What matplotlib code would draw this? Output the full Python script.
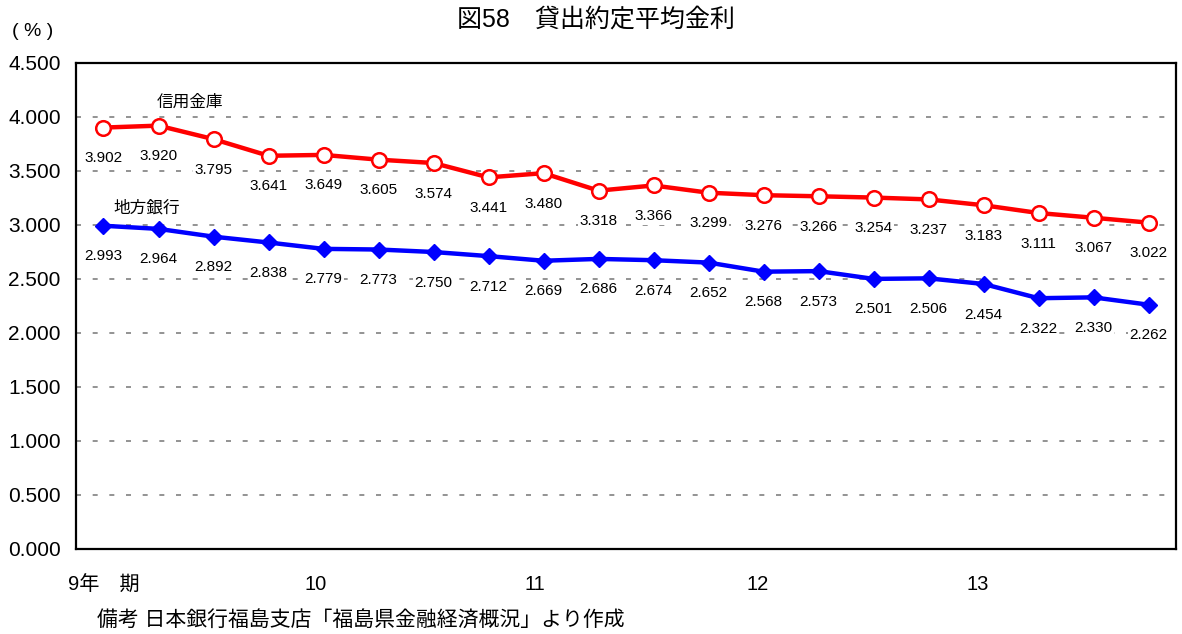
import numpy as np
import matplotlib
matplotlib.use("Agg")
import matplotlib.pyplot as plt

plt.rcParams['font.family'] = ['Liberation Sans', 'Noto Sans CJK JP', 'DejaVu Sans']

shinkin = [3.902, 3.920, 3.795, 3.641, 3.649, 3.605, 3.574, 3.441, 3.480, 3.318,
           3.366, 3.299, 3.276, 3.266, 3.254, 3.237, 3.183, 3.111, 3.067, 3.022]
chigin = [2.993, 2.964, 2.892, 2.838, 2.779, 2.773, 2.750, 2.712, 2.669, 2.686,
          2.674, 2.652, 2.568, 2.573, 2.501, 2.506, 2.454, 2.322, 2.330, 2.262]
year_labels = ['9年　期', '10', '11', '12', '13']
year_pos = [0, 3.85, 7.85, 11.9, 15.9]
y_ticks = np.arange(0, 4.51, 0.5)

x = np.arange(len(shinkin))

fig = plt.figure(figsize=(11.82, 6.34), dpi=100)
ax = fig.add_axes([76 / 1182, 1 - 549 / 634, 1100 / 1182, 486 / 634])

for v in y_ticks[1:-1]:
    ax.axhline(v, color='#808080', lw=1.2, ls=(0, (3, 7)), zorder=1)

ax.plot(x, shinkin, color='#ff0000', lw=3.2, marker='o', ms=10.5,
        mfc='white', mec='#ff0000', mew=1.8, zorder=3)
ax.plot(x, chigin, color='#0000ff', lw=3.2, marker='D', ms=8.5,
        mfc='#0000ff', mec='#0000ff', zorder=3)

for xs, ys in [(x, shinkin), (x, chigin)]:
    for xi, yi in zip(xs, ys):
        ax.annotate(f'{yi:.3f}', (xi, yi), xytext=(0, -22), textcoords='offset points',
                    ha='center', va='center', fontsize=11, zorder=4,
                    bbox=dict(boxstyle='square,pad=0.1', fc='white', ec='none'))

ax.text(1.57, 4.14, '信用金庫', ha='center', va='center', fontsize=12)
ax.text(0.79, 3.157, '地方銀行', ha='center', va='center', fontsize=12)

ax.set_xlim(-0.5, len(shinkin) - 0.5)
ax.set_ylim(0, 4.5)
ax.set_yticks(y_ticks)
ax.set_yticklabels([f'{v:.3f}' for v in y_ticks], fontsize=15)
ax.set_xticks(year_pos)
ax.set_xticklabels(year_labels, fontsize=14.5)
ax.tick_params(axis='x', length=0, pad=19)
ax.tick_params(axis='y', length=0, pad=11)
for s in ax.spines.values():
    s.set_linewidth(1.6)
    s.set_color('black')

fig.text(596 / 1182, 1 - 20 / 634, '図58　貸出約定平均金利', ha='center', va='center', fontsize=18)
fig.text(33 / 1182, 1 - 32 / 634, '( % )', ha='center', va='center', fontsize=14)
fig.text(97 / 1182, 1 - 621 / 634, '備考 日本銀行福島支店「福島県金融経済概況」より作成',
         ha='left', va='center', fontsize=15)

fig.savefig('out.png', dpi=100)
